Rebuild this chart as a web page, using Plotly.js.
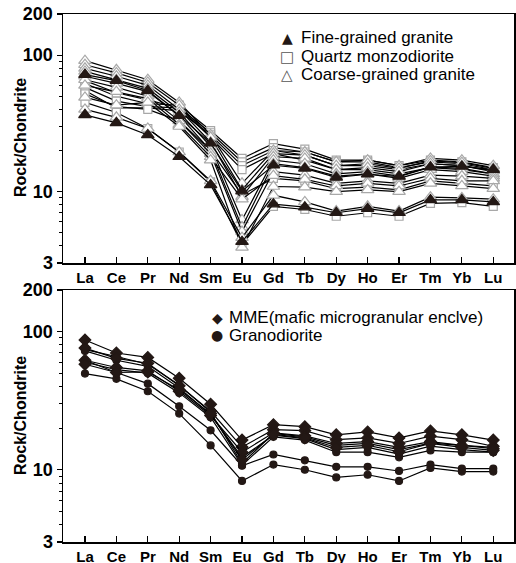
<!DOCTYPE html>
<html>
<head>
<meta charset="utf-8">
<script src="https://cdn.plot.ly/plotly-3.0.1.min.js"></script>
<style>html,body{margin:0;padding:0;background:#fff;}#chart{width:516px;height:563px;}</style>
</head>
<body>
<div id="chart"></div>
<script>
// REE elements (x categories)
const elements = ['La','Ce','Pr','Nd','Sm','Eu','Gd','Tb','Dy','Ho','Er','Tm','Yb','Lu'];

// ---- Upper panel: chondrite-normalised values ----
// Quartz monzodiorite (open squares)
const qm1 = [62, 50, 44, 43, 28, 17.5, 22.5, 20.5, 17, 17, 15.5, 17, 16.5, 15];
const qm2 = [58, 46, 42, 41, 27, 16.5, 21, 19.5, 16.5, 16.5, 15, 16.5, 16, 14.5];
const qm3 = [55, 41, 41, 39, 26, 15.5, 20, 18.5, 15.5, 15.5, 14.5, 16, 15.5, 14];
const qm4 = [65, 53, 47, 41, 25, 14.5, 19, 17, 14.5, 14.5, 13.5, 15, 14.5, 13.5];
const qm5 = [52, 42, 40, 33, 20, 9.5, 12.5, 12, 10.5, 10.8, 10.3, 12, 11.5, 11];
const qm6 = [45, 38, 29, 19.5, 11.8, 4.1, 7.8, 7.4, 6.6, 7.0, 6.6, 8.2, 8.3, 7.8];
// Coarse-grained granite (open triangles)
const cg1 = [91, 78, 66, 45, 26, 11.5, 20, 19.5, 16.5, 17, 15.5, 17.5, 17, 15.5];
const cg2 = [85, 74, 63, 43, 25, 10.3, 19, 18.5, 15.5, 16, 14.8, 16.8, 16.3, 14.8];
const cg3 = [80, 70, 60, 40, 23, 9.2, 18, 17.5, 14.5, 15, 14, 16, 15.5, 14.2];
const cg4 = [76, 66, 57, 38, 21.5, 6.2, 17, 16, 13.5, 14, 13, 15.2, 14.8, 13.5];
const cg5 = [70, 62, 54, 36, 20, 5.5, 16, 15, 13, 13.5, 12.5, 14.5, 14, 13];
const cg6 = [66, 58, 50, 33, 19, 5.1, 14, 13.2, 11.5, 12, 11.5, 13.2, 13, 12.5];
const cg7 = [60, 54, 48, 31, 18, 8.8, 13.1, 12.3, 11, 11.5, 11, 12.5, 12, 12];
const cg8 = [49, 43, 45, 30, 17, 3.9, 10.9, 10.8, 10, 10.3, 10, 11.5, 11, 10.5];
const cg9 = [40, 35, 29, 19.5, 12, 4.6, 9.4, 8.4, 7.2, 7.8, 7.2, 9.1, 9.0, 8.8];
// Fine-grained granite (filled triangles)
const fg1 = [72, 65, 55, 36, 22.6, 10.1, 15.6, 14.8, 12.7, 13.4, 12.9, 15.1, 15.3, 14.5];
const fg2 = [36.5, 31.9, 26, 18, 11.2, 4.3, 8.1, 7.7, 7.0, 7.5, 7.0, 8.7, 8.7, 8.4];

// ---- Lower panel ----
// MME (mafic microgranular enclave, filled diamonds)
const mme1 = [87, 70, 65, 46, 29.8, 16.4, 21.2, 20.5, 17.9, 18.8, 17, 19.1, 17.9, 16.4];
const mme2 = [76, 64, 59, 40.5, 26.5, 14.6, 19.5, 19.2, 16.5, 17, 15.5, 17.5, 16.5, 14.8];
const mme3 = [62, 55, 52, 37, 24.7, 13.4, 18.5, 17.6, 15.5, 16, 14.5, 16, 15, 14.2];
const mme4 = [58, 50.6, 51, 38, 25.5, 11.8, 18, 17, 14.5, 15, 13.5, 15.5, 14.5, 13.8];
// Granodiorite (filled circles)
const gd1 = [72.5, 62, 56, 39, 25, 12.3, 17.8, 16.8, 14, 14.5, 13, 14.8, 14, 13.4];
const gd2 = [60, 53, 50, 36, 24, 10.8, 17.3, 16.4, 13.4, 13.4, 12.3, 13.8, 13.4, 13.4];
const gd3 = [74, 66, 58, 41, 26, 11.1, 18.3, 17.3, 15, 15.5, 14, 15.6, 15, 14.5];
const gd4 = [62, 50.6, 42, 28.8, 19.3, 10.7, 12.9, 11.7, 10.5, 10.5, 9.8, 10.9, 10.2, 10.2];
const gd5 = [49.7, 45.5, 37, 25.5, 15, 8.3, 10.9, 10, 8.8, 9.2, 8.3, 10.3, 9.7, 9.7];

const legendTop = ['Fine-grained granite', 'Quartz monzodiorite', 'Coarse-grained granite'];
const legendBottom = ['MME(mafic microgranular enclve)', 'Granodiorite'];
const yTitle = 'Rock/Chondrite';

const DARK = '#231815';
const GRAY = '#a8a8a8';

function tr(vals, xa, ya, symbol, fill, outline, size) {
  return {
    x: elements, y: vals, xaxis: xa, yaxis: ya, type: 'scatter', mode: 'lines+markers',
    line: {color: '#000', width: 1.2},
    marker: {symbol: symbol, size: size, color: fill, line: {color: outline, width: 1.2}},
    showlegend: false, hoverinfo: 'skip'
  };
}

const traces = [];
[qm1, qm2, qm3, qm4, qm5, qm6].forEach(v => traces.push(tr(v, 'x', 'y', 'square', '#fff', GRAY, 8)));
[cg1, cg2, cg3, cg4, cg5, cg6, cg7, cg8, cg9].forEach(v => traces.push(tr(v, 'x', 'y', 'triangle-up', '#fff', GRAY, 11)));
[fg1, fg2].forEach(v => traces.push(tr(v, 'x', 'y', 'triangle-up', DARK, DARK, 11)));
[gd1, gd2, gd3, gd4, gd5].forEach(v => traces.push(tr(v, 'x2', 'y3', 'circle', DARK, DARK, 7)));
[mme1, mme2, mme3, mme4].forEach(v => traces.push(tr(v, 'x2', 'y3', 'diamond', DARK, DARK, 9)));

const yr = [Math.log10(3), Math.log10(200)];
const minorVals = [4,5,6,7,8,9,20,30,40,50,60,70,80,90];
const tickFontY = {family: 'Liberation Sans, Arial, sans-serif', size: 18, color: '#000', weight: 'bold'};
const tickFontX = {family: 'Liberation Sans, Arial, sans-serif', size: 15, color: '#000', weight: 'bold'};
const titleFont = {family: 'Liberation Sans, Arial, sans-serif', size: 16, color: '#000', weight: 'bold'};

function xAxis(anchor) {
  return {
    anchor: anchor, type: 'category', range: [-0.7, 13.66], domain: [0, 1],
    showline: true, linecolor: '#000', linewidth: 1.5, mirror: true,
    ticks: 'inside', ticklen: 6, tickwidth: 1.2, tickcolor: '#000',
    tickfont: tickFontX, showgrid: false, zeroline: false, fixedrange: true
  };
}
function yAxis(anchor, domain) {
  return {
    anchor: anchor, domain: domain, type: 'log', range: yr,
    tickmode: 'array', tickvals: [3, 10, 100, 200], ticktext: ['3', '10', '100', '200'],
    ticks: 'outside', ticklen: 5, tickwidth: 1.2, tickcolor: '#000',
    minor: {tickmode: 'array', tickvals: minorVals, ticks: 'outside', ticklen: 3, tickwidth: 1, tickcolor: '#000', showgrid: false},
    showline: true, linecolor: '#000', linewidth: 1.5, mirror: true,
    tickfont: tickFontY, showgrid: false, zeroline: false, fixedrange: true
  };
}
function yRight(over) {
  return {
    overlaying: over, side: 'right', type: 'log', range: yr,
    tickmode: 'array', tickvals: [10, 100], ticks: 'inside', ticklen: 7, tickwidth: 1.2, tickcolor: '#000',
    minor: {tickmode: 'array', tickvals: minorVals, ticks: 'inside', ticklen: 4, tickwidth: 1, tickcolor: '#000', showgrid: false},
    showticklabels: false, showline: false, showgrid: false, zeroline: false, fixedrange: true
  };
}

const PL = 63, PW = 451, PB = 542, PH = 528;
const px = v => (v - PL) / PW;
const py = v => (PB - v) / PH;
const legFont = {family: 'Liberation Sans, Arial, sans-serif', size: 17, color: '#000'};
const symFont = {family: 'DejaVu Sans, sans-serif', size: 14, color: DARK};
const symFontGray = {family: 'DejaVu Sans, sans-serif', size: 15, color: '#555'};

function ann(x, y, text, font) {
  return {xref: 'paper', yref: 'paper', x: x, y: y, text: text, font: font, showarrow: false, xanchor: 'left', yanchor: 'middle'};
}
function sym(x, y, text, font) {
  return {xref: 'paper', yref: 'paper', x: x, y: y, text: text, font: font, showarrow: false, xanchor: 'center', yanchor: 'middle'};
}
function ytitle(y) {
  return {xref: 'paper', yref: 'paper', x: px(20), y: y, text: yTitle, font: titleFont, textangle: -90,
          showarrow: false, xanchor: 'center', yanchor: 'middle'};
}

const annotations = [
  sym(px(287), py(38), '▲', symFont), ann(px(299), py(38), legendTop[0], legFont),
  sym(px(287), py(57), '□', symFontGray), ann(px(299), py(57), legendTop[1], legFont),
  sym(px(287), py(75), '△', symFontGray), ann(px(299), py(75), legendTop[2], legFont),
  sym(px(217), py(318), '◆', symFont), ann(px(227), py(318), legendBottom[0], legFont),
  sym(px(217), py(335), '●', symFont), ann(px(227), py(335), legendBottom[1], legFont),
  ytitle(py(138)), ytitle(py(416))
];

const layout = {
  width: 516, height: 563,
  margin: {l: PL, r: 516 - PL - PW, t: 14, b: 563 - PB},
  paper_bgcolor: '#fff', plot_bgcolor: '#fff',
  showlegend: false,
  xaxis: xAxis('y'),
  yaxis: yAxis('x', [py(263), 1]),
  yaxis2: yRight('y'),
  xaxis2: xAxis('y3'),
  yaxis3: yAxis('x2', [0, py(290)]),
  yaxis4: Object.assign(yRight('y3'), {anchor: 'x2'}),
  annotations: annotations
};

Plotly.newPlot('chart', traces, layout, {staticPlot: true, displayModeBar: false});
</script>
</body>
</html>
